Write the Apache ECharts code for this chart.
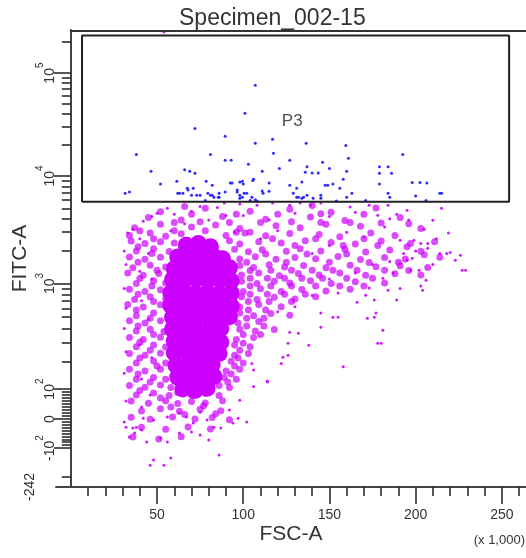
<!DOCTYPE html>
<html><head><meta charset="utf-8">
<script src="https://cdn.jsdelivr.net/npm/echarts@6/dist/echarts.min.js"></script>
<style>html,body{margin:0;padding:0;background:#fff}#c{width:526px;height:558px}</style>
</head><body><div id="c"></div>
<script>
// ---------- data (FSC-A in thousands, FITC-A in raw units) ----------
const title = 'Specimen_002-15';
const xName = 'FSC-A';
const yName = 'FITC-A';
const xMultiplier = '(x 1,000)';
const gateName = 'P3';
const gateVertices = [[6.5, 5750], [254.2, 5750], [254.2, 232000], [6.5, 232000], [6.5, 5750]];
const gateLabelAt = [[128.4, 34000]];
const fscMajorTicks = [50, 100, 150, 200, 250];
const fscMinorTicks = [10,20,30,40,60,70,80,90,110,120,130,140,160,170,180,190,210,220,230,240,260];
const fitcLabelValues = [-242, -100, 0, 100, 1000, 10000, 100000];
const fitcLabelText = ['-242', '-10^2', '0', '10^2', '10^3', '10^4', '10^5'];
const fitcMajorTicks = [-100, 0, 100, 1000, 10000, 100000];
const fitcMinorTicks = [-200,-90,-80,-70,-60,-50,-40,-30,-20,-10,10,20,30,40,50,60,70,80,90,
  200,300,400,500,600,700,800,900,2000,3000,4000,5000,6000,7000,8000,9000,
  20000,30000,40000,50000,60000,70000,80000,90000,200000];

// dense core of the population
const eventsCore = [
 [67,2270],[74,2350],[81,2200],
 [62,1760],[69,1800],[76,1720],[83,1780],[88,1700],
 [60,1370],[66,1400],[73,1350],[80,1380],[87,1340],[92,1400],
 [59,1090],[66,1070],[73,1100],[80,1080],[87,1090],[93,1060],
 [58,820],[65,830],[72,810],[79,830],[86,810],[93,820],
 [58,640],[65,650],[72,630],[79,640],[86,650],[93,630],
 [59,500],[66,490],[73,510],[80,500],[87,490],[92,505],
 [59,395],[66,400],[73,390],[80,395],[87,400],
 [60,312],[67,305],[74,315],[81,310],[87,305],
 [60,243],[67,250],[74,240],[81,245],[86,240],
 [61,185],[68,190],[75,182],[82,188],
 [62,136],[69,140],[76,134],[83,138],
 [65,100],[72,95],[79,102]
];
// medium density events
const eventsMedium = [
 [52,4650],[78,5000],[104,4700],[127,4900],[151,4600],[177,5050],[66,5200],[140,5300],
 [45,4100],[64,3900],[88,4200],[113,3950],[139,4150],[159,3850],[191,4100],
 [37,3300],[52,3550],[70,3350],[84,3500],[98,3250],[119,3450],[133,3300],[148,3550],[168,3400],[203,3250],
 [34,2800],[46,2950],[55,2750],[64,2900],[90,2800],[101,2950],[113,2780],[127,2920],[144,2850],[156,2720],[174,2950],[188,2800],
 [35,2480],[43,2350],[52,2450],[60,2380],[92,2500],[98,2330],[109,2450],[122,2380],[136,2500],[151,2400],[165,2330],[180,2480],[197,2350],[211,2450],
 [38,2000],[48,2100],[57,1980],[95,2080],[103,1970],[111,2060],[125,1990],[133,2100],[145,2010],[159,2080],[171,1960],[185,2050],[203,1990],
 [34,1760],[43,1680],[52,1750],[98,1690],[107,1770],[119,1680],[130,1740],[142,1700],[155,1780],[168,1670],[182,1740],[194,1690],[214,1750],
 [36,1400],[46,1480],[55,1420],[98,1470],[106,1410],[115,1490],[124,1420],[135,1470],[148,1400],[162,1480],[177,1430],[191,1460],[207,1410],
 [33,1250],[42,1190],[51,1240],[99,1200],[109,1250],[121,1180],[132,1240],[144,1200],[156,1250],[171,1190],[188,1230],[203,1200],
 [38,1000],[48,1060],[55,1010],[99,1050],[108,1000],[118,1050],[127,1010],[139,1060],[151,1000],[165,1040],[182,1010],
 [34,890],[43,850],[52,880],[100,850],[110,895],[122,850],[134,885],[148,855],[162,890],
 [37,720],[46,760],[55,725],[99,760],[108,720],[118,755],[130,725],[142,760],
 [33,650],[42,615],[52,645],[98,615],[109,650],[122,620],
 [38,515],[48,545],[98,545],[106,515],[116,540],[127,520],
 [34,465],[43,445],[52,465],[97,445],[109,460],
 [38,380],[46,395],[54,378],[98,395],[107,380],[118,392],
 [34,335],[42,322],[52,336],[96,322],[106,335],
 [38,278],[48,288],[55,276],[95,288],[104,278],
 [34,240],[43,232],[52,242],[95,232],[103,241],
 [38,196],[48,205],[55,195],[93,204],[100,196],
 [34,166],[43,159],[52,167],[90,159],[98,166],
 [38,129],[48,135],[55,129],[89,135],[96,129],
 [34,110],[43,105],[52,111],[58,104],[86,110],[92,104],
 [38,80],[48,87],[57,79],[62,88],[70,80],[78,86],[86,79],
 [35,60],[45,53],[55,61],[62,52],[70,59],[78,54],[88,61],
 [41,27],[52,34],[63,26],[75,33],[87,28],
 [35,6],[46,-1],[59,7],[72,0],[82,5],[92,-2],
 [41,-28],[55,-35],[68,-27],[81,-34],
 [36,-62],[51,-69],[64,-61],
 [40,3100],[48,2600],[39,2200],[47,1900],[39,1580],[50,1330],[40,1110],[47,950],[39,800],[48,690],[38,580],[46,490],
 [39,420],[48,355],[40,305],[46,258],[40,218],[50,181],[39,147],[46,120],[40,95],[52,70],[58,40],[66,15],[77,44],[84,18],
 [104,3000],[117,2600],[130,2250],[142,2600],[158,2250],[170,2600],[178,2250],[195,2200],[205,1850],[190,1580],[173,1570],
 [160,1880],[150,1580],[137,1880],[125,1580],[113,1880],[102,1580],[104,1320],[116,1330],[128,1330],[140,1330],[152,1330],
 [166,1330],[182,1330],[196,1320],[104,1120],[114,1120],[124,1120],[134,1120],[146,1120],[160,1120],[175,1120],[104,950],
 [116,950],[128,950],[142,950],[156,950],[170,950],[104,800],[114,800],[124,800],[136,800],[103,690],[115,690],[128,690],
 [103,580],[113,580],[102,490],[112,490],[102,420],[112,420],[100,355],[110,355],[100,300],[98,258],[97,218],[95,181],
 [93,147],[91,120],
 [60,3700],[75,3750],[92,3700],[110,3700],[128,3750],[145,3700],[162,3700],[180,3650],[196,3600],[70,4400],[96,4400],
 [120,4400],[145,4450],[170,4400],[60,3100],[78,3100],[96,3000]
];
// sparse / outlying events
const eventsSparse = [
 [54,250000],
 [229,1330],[226,1830],[220,1940],[214,1900],[219,2950],[215,5000],[210,3880],[207,2350],[207,2130],[206,1070],
 [203,950],[191,900],[189,710],[180,300],[181,387],[172,490],[176,500],[177,545],[158,178],[155,500],[145,545],
 [138,287],[132,365],[126,300],[122,193],[123,222],[126,232],[127,372],[105,193],[197,1330],[202,1330],[195,1645],
 [198,1720],[191,2525],[199,2525],[203,2350],[187,1250],[181,1120],[184,870],[173,910],[176,710],[166,680],[171,785],
 [182,3350],[189,4400],[195,4800],[178,4310],[173,5350],[184,5350],[145,5600],[139,5350],[162,5150],[89,5600],
 [98,5500],[108,5350],[117,5600],[127,5350],[133,5600],[178,300],[218,1900],[227,1330],[223,1645],[204,870],
 [145,410],[152,500],[114,120],[106,163],[56,5000],[50,4500],[75,5200],[85,5100],[33,2950],[36,3200],
 [46,-159],[54,-159],[58,-134],[48,-141],[86,-124],[34,-62],[37,-48],[41,-38],[32,-28],[36,-31],[38,-28],
 [44,-79],[52,-66],[56,-79],[63,-48],[70,-45],[75,-55],[80,-72],[83,-28],[87,-31],[94,-14],[97,3],[102,-10],
 [92,30],[98,63],[106,107],[114,123],[63,20],[67,7],[75,23],[79,-3],[71,-14],[42,3],[48,-3],[56,7],
 [31,2000],[32,1500],[31,900],[32,600],[31,400],[32,250],[31,150],[32,60],[31,-10],[40,2600],[45,1900],[40,1300],
 [47,1100],[41,700],[45,480],[40,290],[47,220],[41,130],[46,80],[41,40],
 [160,3000],[170,2700],[150,2250],[140,1900],[175,1500],[185,1600],[165,1250],[150,1100],[140,780],[130,620],
 [120,560],[155,820],[193,1900],[200,2000],[210,1500],[212,2600],[205,3200],[196,3900],[185,4000],[165,4600],
 [150,4200],[130,4500],[115,3900],[100,4300],[110,2600],[120,3100],
 [60,4400],[70,4700],[80,3900],[90,4300],[66,3600],[58,3100],[95,3000],[42,3800],[47,4200]
];
// events inside gate P3
const eventsP3 = [
 [107,76000],[101,40600],[72,29000],[89.5,24300],[107,20800],[117,22700],[136.5,20800],[159.5,19800],
 [38,16200],[81,16200],[117.5,16600],[192.5,16200],[161,14900],[89.5,14200],[93,14200],[127,14200],
 [103,13000],[146,13600],[46.5,11100],[121,11800],[137,12300],[150,11800],[179,12300],[184,12300],
 [66,11500],[69,11100],[72,10600],[111,11100],[136,10900],[140,10700],[143.5,10700],[160,11100],[179,10600],[186,10600],
 [61.5,8930],[67.5,7700],[78.5,8930],[82,8200],[52,8400],[92.5,8600],[98,8800],[100,8400],[105.5,9100],[115,8600],
 [134,8800],[147.5,8200],[149,8200],[152,8400],[156,7700],[158,9300],[179,8400],[198,8700],[202.5,8700],[206.5,8600],
 [127,8200],[131,7700],[111,7250],
 [31.5,6900],[34,7100],[62,6900],[65,6900],[70,6620],[75,6620],[79.5,6900],[83,6340],[86,6340],[96.5,7100],
 [100.5,6900],[111.5,6900],[115,7200],[129,6900],[132,6340],[135,6340],[145,6200],[160,6340],[163,6900],
 [184,6900],[185,6340],[200,6500],[215,6900],
 [98,6200],[99.5,6340],[104,5900],[107,6000],[108,5850],[131,6340],[134,6200],[137,6620],[140.5,6200],[145,6620],
 [154,5850],[171,5900],[206,5900],[214,6900],[73,6620],[78,5900],[81,6620],[86,6900],
 [63,6900],[68,7400],[71,7700],[82,6620],[85.5,6340],[89.5,7100],[93.5,8600],[96.5,7400],[99.5,8930],[106,9300],
 [98,6620],[102,6900],[105,6340]
];

// ---------- logicle-like display scale for FITC-A ----------
const linAnchors = [[-242,0],[-200,10],[-100,39],[0,68],[100,98]];
const logAnchors = [[100,98],[200,125],[300,144],[500,170],[1000,203.7],[10000,311.3],[100000,414.3]];
function interp(a, t) {
  for (let i = 0; i < a.length - 1; i++) {
    if (t <= a[i+1][0] || i === a.length - 2) {
      const f = (t - a[i][0]) / (a[i+1][0] - a[i][0]);
      return a[i][1] + f * (a[i+1][1] - a[i][1]);
    }
  }
}
function fitcD(v) {
  if (v <= 100) return interp(linAnchors, v);
  const la = logAnchors.map(p => [Math.log10(p[0]), p[1]]);
  return interp(la, Math.log10(v));
}
const Y_MIN = fitcD(-242), Y_MAX = fitcD(262144);
const X_MIN = -8.6, X_MAX = 264;
const tr = arr => arr.map(p => [p[0], fitcD(p[1])]);

const labelD = fitcLabelValues.map(fitcD);
function richLabel(s) {
  const m = s.match(/^(-?10)\^(\d)$/);
  if (m) return '{n|' + m[1] + '}{s|' + m[2] + '}';
  if (s === '-242') return '{m|' + s + '}';
  return '{n|' + s + '}';
}

const FONT = 'Liberation Sans, Arial, sans-serif';
const chart = echarts.init(document.getElementById('c'), null, {renderer: 'canvas'});
const axisColor = '#444';
chart.setOption({
  animation: false,
  backgroundColor: '#fff',
  title: {text: title, left: 174, top: 2, textStyle: {fontFamily: FONT, fontSize: 23, fontWeight: 'normal', color: '#333'}},
  grid: {left: 56, right: 0, top: 30, bottom: 71, containLabel: false, outerBoundsMode: 'none'},
  xAxis: [{
    type: 'value', min: X_MIN, max: X_MAX, position: 'bottom',
    name: xName, nameLocation: 'middle', nameGap: 37, nameMoveOverlap: false,
    nameTextStyle: {fontFamily: FONT, fontSize: 21, color: '#333'},
    axisLine: {show: true, onZero: true, lineStyle: {color: axisColor, width: 2}},
    axisTick: {show: true, customValues: fscMinorTicks, length: 9, lineStyle: {color: '#222', width: 1.5}},
    axisLabel: {show: true, customValues: fscMajorTicks, margin: 21, fontFamily: FONT, fontSize: 14, color: '#333'},
    splitLine: {show: false}
  }, {
    type: 'value', min: X_MIN, max: X_MAX, position: 'bottom',
    axisLine: {show: false, onZero: true},
    axisTick: {show: true, customValues: fscMajorTicks, length: 17, lineStyle: {color: '#222', width: 1.5}},
    axisLabel: {show: false}, splitLine: {show: false}
  }],
  yAxis: [{
    type: 'value', min: Y_MIN, max: Y_MAX, position: 'left',
    name: yName, nameLocation: 'middle', nameGap: 25, nameRotate: 90, nameMoveOverlap: false,
    nameTextStyle: {fontFamily: FONT, fontSize: 21, color: '#333'},
    axisLine: {show: true, onZero: true, lineStyle: {color: axisColor, width: 2}},
    axisTick: {show: true, customValues: fitcMinorTicks.map(fitcD), length: 9, lineStyle: {color: '#222', width: 1.5}},
    axisLabel: {
      show: true, customValues: labelD, rotate: 90, margin: -1,
      fontFamily: FONT, fontSize: 14, color: '#333',
      formatter: function (v) {
        let best = 0, bd = 1e9;
        labelD.forEach((d, i) => { const e = Math.abs(d - v); if (e < bd) { bd = e; best = i; } });
        return richLabel(fitcLabelText[best]);
      },
      rich: {
        n: {fontFamily: FONT, fontSize: 14, color: '#333', lineHeight: 22, verticalAlign: 'bottom'},
        s: {fontFamily: FONT, fontSize: 10, color: '#333', lineHeight: 22, verticalAlign: 'top'},
        m: {fontFamily: FONT, fontSize: 14, color: '#333', lineHeight: 22, verticalAlign: 'bottom', padding: [0, 0, 20, 0]}
      }
    },
    splitLine: {show: false}
  }, {
    type: 'value', min: Y_MIN, max: Y_MAX, position: 'left',
    axisLine: {show: false, onZero: true},
    axisTick: {show: true, customValues: fitcMajorTicks.map(fitcD), length: 17, lineStyle: {color: '#222', width: 1.5}},
    axisLabel: {show: false}, splitLine: {show: false}
  }],
  series: [
    {name: 'core', type: 'scatter', data: tr(eventsCore), symbolSize: 17, itemStyle: {color: '#cc00ff', opacity: 1}, z: 2},
    {name: 'medium', type: 'scatter', data: tr(eventsMedium), symbolSize: 7, itemStyle: {color: '#cc00ff', opacity: 0.7}, z: 2},
    {name: 'sparse', type: 'scatter', data: tr(eventsSparse), symbolSize: 3, itemStyle: {color: '#cc00ff', opacity: 0.9}, z: 2},
    {name: gateName, type: 'scatter', data: tr(eventsP3), symbolSize: 3, itemStyle: {color: '#2222ff', opacity: 0.95}, z: 3},
    {name: 'gate', type: 'line', data: tr(gateVertices), symbol: 'none', lineStyle: {color: '#222', width: 2}, z: 5, silent: true},
    {name: 'gateLabel', type: 'scatter', data: tr(gateLabelAt), symbolSize: 0, z: 6, silent: true,
     label: {show: true, position: 'inside', formatter: gateName, fontFamily: FONT, fontSize: 17, color: '#222'}}
  ]
});
// top frame line, starting where the y axis sits
const pTop = chart.convertToPixel({xAxisIndex: 0, yAxisIndex: 0}, [0, Y_MAX]);
chart.setOption({graphic: [
  {type: 'text', right: 1, top: 534, style: {text: xMultiplier, fontFamily: FONT, fontSize: 13, fill: '#333'}},
  {type: 'line', shape: {x1: pTop[0] - 1, y1: pTop[1] + 1, x2: 526, y2: pTop[1] + 1}, style: {stroke: '#333', lineWidth: 2}, z: 10}
]});
</script></body></html>
